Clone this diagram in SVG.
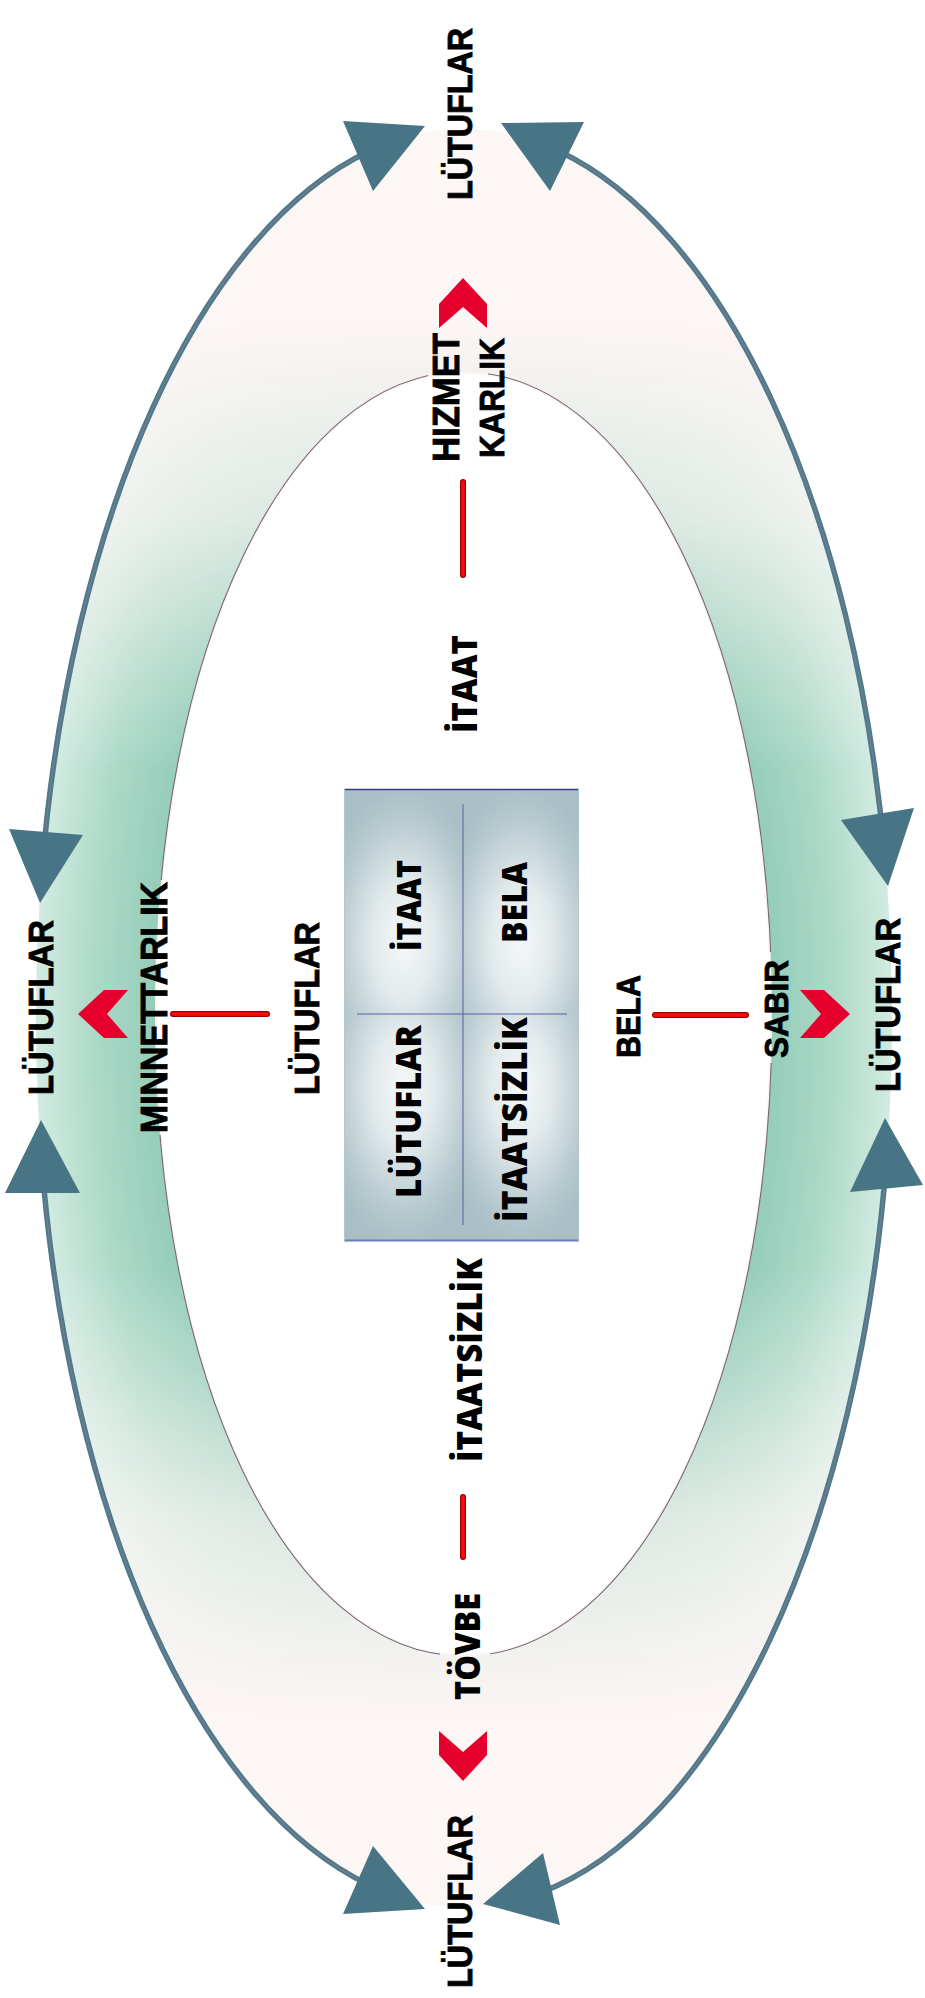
<svg xmlns="http://www.w3.org/2000/svg" width="925" height="1998" viewBox="0 0 925 1998">
<style>
.ls{font-family:"Liberation Sans",Arial,sans-serif;font-weight:bold;fill:#000;stroke:#000;stroke-width:0.9;text-anchor:middle}
.os{font-family:"Open Sans","Liberation Sans",sans-serif;font-weight:800;fill:#000;text-anchor:middle}
.arc{fill:none;stroke:#4f7a8b;stroke-width:5.5}
.arcc{fill:none;stroke:#8c7f92;stroke-width:1.1;opacity:0.7}
.head{fill:#477585}
.chev{fill:#e6002e}
.redo{stroke:#9a0000;stroke-width:6;stroke-linecap:round}
.redi{stroke:#ff0a0a;stroke-width:3.6;stroke-linecap:round}
.div{stroke:#5a5ca6;stroke-width:1}
</style>
<defs>
<radialGradient id="gband" gradientUnits="userSpaceOnUse" cx="0" cy="0" r="1" gradientTransform="translate(464 1016) scale(428 889)">
<stop offset="0.69" stop-color="#8fcab5"/>
<stop offset="0.72" stop-color="#94cdb9"/>
<stop offset="0.86" stop-color="#acd9c8"/>
<stop offset="1" stop-color="#d2ebe1"/>
</radialGradient>
<linearGradient id="gmask" gradientUnits="userSpaceOnUse" x1="0" y1="0" x2="0" y2="1998">
<stop offset="0.16" stop-color="#000"/>
<stop offset="0.26" stop-color="#4d4d4d"/>
<stop offset="0.33" stop-color="#b8b8b8"/>
<stop offset="0.385" stop-color="#fff"/>
<stop offset="0.635" stop-color="#fff"/>
<stop offset="0.69" stop-color="#b8b8b8"/>
<stop offset="0.76" stop-color="#4d4d4d"/>
<stop offset="0.86" stop-color="#000"/>
</linearGradient>
<mask id="mband" maskUnits="userSpaceOnUse" x="0" y="0" width="925" height="1998">
<rect x="0" y="0" width="925" height="1998" fill="url(#gmask)"/>
</mask>
<mask id="minner" maskUnits="userSpaceOnUse" x="0" y="0" width="925" height="1998">
<rect x="0" y="0" width="925" height="1998" fill="#fff"/>
<rect x="428" y="352" width="60" height="40" fill="#000"/>
<rect x="440" y="1636" width="50" height="40" fill="#000"/>
<rect x="138" y="880" width="34" height="255" fill="#000"/>
<rect x="752" y="952" width="38" height="111" fill="#000"/>
</mask>
<radialGradient id="gtop" cx="0.5" cy="0.68" r="0.7">
<stop offset="0" stop-color="#f4f7f8"/>
<stop offset="0.35" stop-color="#e4ebed"/>
<stop offset="0.8" stop-color="#b5c9ce"/>
<stop offset="1" stop-color="#a8bfc5"/>
</radialGradient>
<radialGradient id="gbot" cx="0.5" cy="0.32" r="0.7">
<stop offset="0" stop-color="#f4f7f8"/>
<stop offset="0.35" stop-color="#e4ebed"/>
<stop offset="0.8" stop-color="#b5c9ce"/>
<stop offset="1" stop-color="#a8bfc5"/>
</radialGradient>
<polygon id="chevshape" points="0,0 24,26 24,50 0,29 -24,50 -24,26"/>
</defs>

<g id="band">
<ellipse cx="464" cy="1018" rx="428" ry="889" fill="#fcf6f5"/>
<path fill="url(#gband)" fill-rule="evenodd" mask="url(#mband)" d="M 464 129 A 428 889 0 0 1 464 1907 A 428 889 0 0 1 464 129 Z M 463.5 372 C 639.3 372 772 648.1 772 1014 C 772 1379.9 639.3 1656 463.5 1656 C 287.7 1656 155 1379.9 155 1014 C 155 648.1 287.7 372 463.5 372 Z"/>
<path fill="#fff" d="M 463.5 374 C 638.3 374 770 649 770 1014 C 770 1379 638.3 1654 463.5 1654 C 288.7 1654 157 1379 157 1014 C 157 649 288.7 374 463.5 374 Z"/>
<path fill="none" stroke="#7a6672" stroke-width="1.1" mask="url(#minner)" d="M 463.5 372 C 639.3 372 772 648.1 772 1014 C 772 1379.9 639.3 1656 463.5 1656 C 287.7 1656 155 1379.9 155 1014 C 155 648.1 287.7 372 463.5 372 Z"/>
</g>

<g id="connectors">
<path class="arc" d="M 42.1 868 A 428 889 0 0 1 369 151.2"/>
<path class="arc" d="M 558 150.7 A 428 889 0 0 1 884.7 855"/>
<path class="arc" d="M 886.5 1160 A 428 889 0 0 1 540 1892.9"/>
<path class="arc" d="M 41.5 1160 A 428 889 0 0 0 369 1884.8"/>
<path class="arcc" d="M 42.1 868 A 428 889 0 0 1 369 151.2"/>
<path class="arcc" d="M 558 150.7 A 428 889 0 0 1 884.7 855"/>
<path class="arcc" d="M 886.5 1160 A 428 889 0 0 1 540 1892.9"/>
<path class="arcc" d="M 41.5 1160 A 428 889 0 0 0 369 1884.8"/>
<polygon class="head" points="343,121 425,126 373,191"/>
<polygon class="head" points="501,123 584,122 550,191"/>
<polygon class="head" points="9,829 83,835 40,903"/>
<polygon class="head" points="41,1120 80,1193 5,1193"/>
<polygon class="head" points="841,820 914,808 888,886"/>
<polygon class="head" points="885,1118 923,1185 850,1192"/>
<polygon class="head" points="425,1909 343,1914 373,1846"/>
<polygon class="head" points="483,1904 543,1853 560,1925"/>
<line class="redo" x1="463" y1="482" x2="463" y2="575"/>
<line class="redi" x1="463" y1="482" x2="463" y2="575"/>
<line class="redo" x1="463" y1="1497" x2="463" y2="1557"/>
<line class="redi" x1="463" y1="1497" x2="463" y2="1557"/>
<line class="redo" x1="173" y1="1014" x2="267" y2="1014"/>
<line class="redi" x1="173" y1="1014" x2="267" y2="1014"/>
<line class="redo" x1="655" y1="1015" x2="746" y2="1015"/>
<line class="redi" x1="655" y1="1015" x2="746" y2="1015"/>
<use href="#chevshape" class="chev" transform="translate(463 278)"/>
<use href="#chevshape" class="chev" transform="translate(463 1781) rotate(180)"/>
<use href="#chevshape" class="chev" transform="translate(78 1014) rotate(-90)"/>
<use href="#chevshape" class="chev" transform="translate(850 1014) rotate(90)"/>
</g>

<g id="matrix">
<rect x="344" y="789" width="235" height="452" fill="#a8bfc5"/>
<rect fill="url(#gtop)" x="344" y="789" width="119" height="225"/>
<rect fill="url(#gtop)" x="463" y="789" width="116" height="225"/>
<rect fill="url(#gbot)" x="344" y="1014" width="119" height="227"/>
<rect fill="url(#gbot)" x="463" y="1014" width="116" height="227"/>
<line x1="344" y1="789.5" x2="579" y2="789.5" stroke="#343b8c" stroke-width="1.6"/>
<line x1="344" y1="1240.5" x2="579" y2="1240.5" stroke="#6a7db0" stroke-width="1.8"/>
<line x1="344.5" y1="789" x2="344.5" y2="1241" stroke="#b7c6cb" stroke-width="1"/>
<line x1="578.5" y1="789" x2="578.5" y2="1241" stroke="#b7c6cb" stroke-width="1"/>
<line class="div" x1="463" y1="804" x2="463" y2="1225"/>
<line class="div" x1="357" y1="1014" x2="567" y2="1014"/>
<text class="os" font-size="34" textLength="91" lengthAdjust="spacingAndGlyphs" transform="translate(421 905.5) rotate(-90)">İTAAT</text>
<text class="os" font-size="35" textLength="81" lengthAdjust="spacingAndGlyphs" transform="translate(527 902.5) rotate(-90)">BELA</text>
<text class="os" font-size="35" textLength="173" lengthAdjust="spacingAndGlyphs" transform="translate(421 1111.5) rotate(-90)">LÜTUFLAR</text>
<text class="os" font-size="35" textLength="205" lengthAdjust="spacingAndGlyphs" transform="translate(527 1119.5) rotate(-90)">İTAATSİZLİK</text>
</g>

<g id="n-top-lutuflar"><text class="ls" font-size="35" textLength="172" lengthAdjust="spacingAndGlyphs" transform="translate(472 114) rotate(-90)">LÜTUFLAR</text></g>
<g id="n-hizmetkarlik">
<text class="ls" font-size="36" textLength="129" lengthAdjust="spacingAndGlyphs" transform="translate(459 397.5) rotate(-90)">HIZMET</text>
<text class="ls" font-size="35" textLength="120" lengthAdjust="spacingAndGlyphs" transform="translate(504 398) rotate(-90)">KARLIK</text>
</g>
<g id="n-itaat"><text class="os" font-size="35" textLength="98" lengthAdjust="spacingAndGlyphs" transform="translate(477 684) rotate(-90)">İTAAT</text></g>
<g id="n-itaatsizlik"><text class="os" font-size="35" textLength="204" lengthAdjust="spacingAndGlyphs" transform="translate(482 1360) rotate(-90)">İTAATSİZLİK</text></g>
<g id="n-tovbe"><text class="os" font-size="35" textLength="107" lengthAdjust="spacingAndGlyphs" transform="translate(480 1646.5) rotate(-90)">TÖVBE</text></g>
<g id="n-bottom-lutuflar"><text class="ls" font-size="35" textLength="173" lengthAdjust="spacingAndGlyphs" transform="translate(472 1901.5) rotate(-90)">LÜTUFLAR</text></g>
<g id="n-left-lutuflar"><text class="ls" font-size="35" textLength="175" lengthAdjust="spacingAndGlyphs" transform="translate(53 1007.5) rotate(-90)">LÜTUFLAR</text></g>
<g id="n-minnettarlik"><text class="ls" font-size="36" textLength="251" lengthAdjust="spacingAndGlyphs" transform="translate(167 1007.5) rotate(-90)">MINNETTARLIK</text></g>
<g id="n-mid-lutuflar"><text class="ls" font-size="35" textLength="173" lengthAdjust="spacingAndGlyphs" transform="translate(319 1008.5) rotate(-90)">LÜTUFLAR</text></g>
<g id="n-bela"><text class="ls" font-size="34" textLength="83" lengthAdjust="spacingAndGlyphs" transform="translate(640 1016.5) rotate(-90)">BELA</text></g>
<g id="n-sabir"><text class="ls" font-size="34" textLength="98" lengthAdjust="spacingAndGlyphs" transform="translate(788 1009) rotate(-90)">SABIR</text></g>
<g id="n-right-lutuflar"><text class="ls" font-size="35" textLength="174" lengthAdjust="spacingAndGlyphs" transform="translate(900 1005) rotate(-90)">LÜTUFLAR</text></g>
</svg>
